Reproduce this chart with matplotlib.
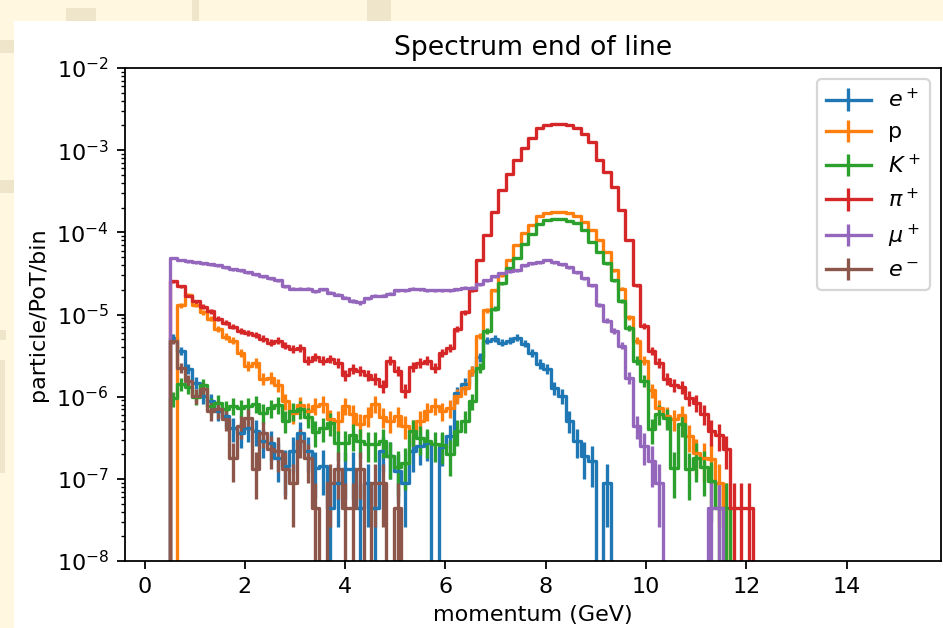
import numpy as np
import matplotlib
matplotlib.use("Agg")
import matplotlib.pyplot as plt
from matplotlib.patches import Rectangle

# ---------------- data ----------------
bin_start = 0.5      # GeV, left edge of first filled bin
bin_width = 0.149    # GeV
unit = 4.43e-8       # particle/PoT carried by one entry (for error bars)

e_plus = [5.24e-6, 3.64e-6, 2.20e-6, 1.48e-6, 1.03e-6, 8.9e-7, 6.75e-7, 5.86e-7, 4.19e-7, 3.64e-7,
          4.19e-7, 3.85e-7, 2.91e-7, 2.75e-7, 1.80e-7, 1.44e-7, 2.20e-7, 3.64e-7, 2.20e-7, 1.36e-7,
          1.44e-7, 4.43e-8, 8.9e-8, 1.33e-7, 1.33e-7, 4.43e-8, 8.9e-8, 4.43e-8, 2.20e-7, 1.91e-7,
          1.25e-7, 8.9e-8, 2.20e-7, 2.53e-7, 2.75e-7, 0, 2.46e-7, 3.35e-7, 1.1e-6, 1.44e-6,
          2.07e-6, 3.0e-6, 4.82e-6, 5.10e-6, 4.56e-6, 4.82e-6, 5.24e-6, 4.43e-6, 3.44e-6, 2.53e-6,
          2.20e-6, 1.29e-6, 1.03e-6, 5.10e-7, 2.91e-7, 1.91e-7, 1.66e-7, 0, 8.9e-8]

proton = [0, 1.29e-5, 1.75e-5, 1.32e-5, 1.06e-5, 8.9e-6, 6.75e-6, 5.39e-6, 4.82e-6, 3.44e-6,
          2.39e-6, 2.60e-6, 1.66e-6, 1.70e-6, 1.40e-6, 8.9e-7, 6.38e-7, 7.98e-7, 6.75e-7, 7.76e-7,
          8.2e-7, 5.39e-7, 5.10e-7, 7.76e-7, 6.21e-7, 4.69e-7, 5.86e-7, 8.2e-7, 5.70e-7, 5.10e-7,
          5.86e-7, 4.43e-7, 3.85e-7, 5.10e-7, 6.75e-7, 7.76e-7, 6.75e-7, 7.34e-7, 1.03e-6, 1.29e-6,
          2.07e-6, 5.5e-6, 1.12e-5, 1.96e-5, 2.99e-5, 4.56e-5, 6.94e-5, 9.7e-5, 1.22e-4, 1.57e-4,
          1.71e-4, 1.75e-4, 1.75e-4, 1.71e-4, 1.57e-4, 1.32e-4, 1.06e-4, 8.0e-5, 5.70e-5, 3.44e-5,
          2.07e-5, 9.2e-6, 4.8e-6, 2.75e-6, 1.2e-6, 7.3e-7, 5.86e-7, 5.39e-7, 6.03e-7, 3.35e-7,
          2.07e-7, 1.80e-7, 1.75e-7, 8.9e-8, 4.43e-8]

kaon = [9.5e-7, 1.44e-6, 1.32e-6, 1.0e-6, 1.40e-6, 7.76e-7, 8.45e-7, 7.14e-7, 7.76e-7, 7.34e-7,
        7.76e-7, 8.2e-7, 6.38e-7, 7.34e-7, 7.98e-7, 5.10e-7, 6.75e-7, 7.14e-7, 5.70e-7, 3.74e-7,
        4.19e-7, 4.82e-7, 2.75e-7, 2.75e-7, 3.44e-7, 2.91e-7, 2.67e-7, 2.67e-7, 2.91e-7, 1.91e-7,
        1.40e-7, 1.57e-7, 3.85e-7, 3.16e-7, 2.91e-7, 2.67e-7, 2.60e-7, 2.02e-7, 3.85e-7, 5.10e-7,
        8.9e-7, 2.26e-6, 6.38e-6, 1.18e-5, 2.39e-5, 3.64e-5, 4.82e-5, 7.14e-5, 9.5e-5, 1.25e-4,
        1.40e-4, 1.44e-4, 1.44e-4, 1.36e-4, 1.29e-4, 1.06e-4, 7.55e-5, 5.70e-5, 4.19e-5, 2.60e-5,
        1.48e-5, 6.94e-6, 2.75e-6, 1.57e-6, 4.0e-7, 6.21e-7, 5.54e-7, 1.36e-7, 4.69e-7, 1.32e-7,
        1.80e-7, 1.40e-7, 9.5e-8, 4.43e-8, 4.43e-8]

pion = [2.53e-5, 2.20e-5, 1.70e-5, 1.44e-5, 1.25e-5, 1.09e-5, 8.9e-6, 7.98e-6, 7.14e-6, 6.38e-6,
        6.03e-6, 5.70e-6, 5.10e-6, 4.56e-6, 4.82e-6, 4.19e-6, 3.85e-6, 3.96e-6, 2.75e-6, 3.07e-6,
        2.75e-6, 2.90e-6, 2.60e-6, 1.85e-6, 2.20e-6, 2.07e-6, 1.85e-6, 1.66e-6, 1.36e-6, 2.75e-6,
        2.07e-6, 1.18e-6, 2.32e-6, 2.60e-6, 2.75e-6, 2.26e-6, 3.44e-6, 3.96e-6, 6.75e-6, 1.06e-5,
        1.96e-5, 4.56e-5, 9.3e-5, 1.75e-4, 3.3e-4, 5.10e-4, 7.55e-4, 1.06e-3, 1.40e-3, 1.86e-3,
        2.02e-3, 2.07e-3, 2.07e-3, 2.02e-3, 1.86e-3, 1.57e-3, 1.25e-3, 7.55e-4, 5.4e-4, 3.54e-4,
        1.86e-4, 8.0e-5, 2.26e-5, 7.3e-6, 3.64e-6, 2.60e-6, 1.66e-6, 1.40e-6, 1.32e-6, 9.7e-7,
        8.45e-7, 6.21e-7, 3.85e-7, 3.44e-7, 2.32e-7, 4.43e-8, 4.43e-8, 4.43e-8]

muon = [4.82e-5, 4.56e-5, 4.43e-5, 4.31e-5, 4.19e-5, 4.07e-5, 3.96e-5, 3.74e-5, 3.54e-5, 3.44e-5,
        3.25e-5, 3.07e-5, 2.91e-5, 2.75e-5, 2.60e-5, 2.20e-5, 2.07e-5, 2.07e-5, 2.07e-5, 1.91e-5,
        2.02e-5, 1.85e-5, 1.75e-5, 1.61e-5, 1.48e-5, 1.40e-5, 1.57e-5, 1.70e-5, 1.70e-5, 1.80e-5,
        1.96e-5, 1.96e-5, 2.07e-5, 2.02e-5, 1.96e-5, 1.96e-5, 1.96e-5, 1.96e-5, 2.02e-5, 2.13e-5,
        2.13e-5, 2.32e-5, 2.60e-5, 2.91e-5, 3.16e-5, 3.35e-5, 3.44e-5, 3.96e-5, 4.19e-5, 4.31e-5,
        4.56e-5, 4.31e-5, 4.07e-5, 3.74e-5, 3.25e-5, 2.75e-5, 2.26e-5, 1.32e-5, 8.45e-6, 6.38e-6,
        4.19e-6, 1.70e-6, 4.43e-7, 2.53e-7, 1.66e-7, 8.9e-8, 0, 0, 0, 0,
        0, 0, 4.43e-8, 4.43e-8]

e_minus = [4.82e-6, 2.26e-6, 1.57e-6, 1.03e-6, 1.25e-6, 6.75e-7, 7.14e-7, 5.39e-7, 1.80e-7, 4.43e-7,
           5.54e-7, 1.33e-7, 3.64e-7, 2.32e-7, 2.20e-7, 1.33e-7, 8.9e-8, 2.91e-7, 1.77e-7, 4.43e-8,
           0, 8.9e-8, 1.33e-7, 4.43e-8, 4.43e-8, 1.33e-7, 0, 8.9e-8, 8.9e-8, 0, 4.43e-8]

series = [e_plus, proton, kaon, pion, muon, e_minus]
labels = ['$e^+$', 'p', '$K^+$', '$\\pi^+$', '$\\mu^+$', '$e^-$']
colors = ['#1f77b4', '#ff7f0e', '#2ca02c', '#d62728', '#9467bd', '#8c564b']

# ---------------- figure ----------------
W, H, DPI = 943, 628, 160
fig = plt.figure(figsize=(W / DPI, H / DPI), dpi=DPI, facecolor='#FFF7DF')

# faint texture blocks of the page background
for (x0, y0, w, h) in [(66, 8, 30, 13), (192, 0, 7, 21), (367, 0, 24, 21), (380, 0, 10, 5),
                       (0, 40, 14, 13), (0, 180, 14, 13), (0, 330, 6, 10), (0, 360, 5, 113)]:
    fig.add_artist(Rectangle((x0 / W, 1 - (y0 + h) / H), w / W, h / H, transform=fig.transFigure,
                             facecolor='#EFE5CA', edgecolor='none', zorder=-2))
# white figure canvas
fig.add_artist(Rectangle((14 / W, 0), 1 - 14 / W, (H - 21) / H, transform=fig.transFigure,
                         facecolor='white', edgecolor='none', zorder=-1))

ax = fig.add_axes([124.5 / W, 67 / H, 816.5 / W, 493 / H])
ax.set_yscale('log')

nmax = max(len(s) for s in series)
idx = np.arange(-1, nmax + 2)
centers = bin_start + bin_width * (idx + 0.5)

for vals, lab, col in zip(series, labels, colors):
    v = np.zeros(len(idx))
    v[1:1 + len(vals)] = vals
    err = np.sqrt(v * unit)
    ax.errorbar(centers, v, yerr=err, drawstyle='steps-mid', color=col, label=lab)

ax.set_xlim(-0.40, 15.88)
ax.set_ylim(1e-8, 1e-2)
ax.set_title('Spectrum end of line')
ax.set_xlabel('momentum (GeV)')
ax.set_ylabel('particle/PoT/bin')
ax.legend(loc='upper right')

fig.savefig('out.png', dpi=DPI, facecolor=fig.get_facecolor())
